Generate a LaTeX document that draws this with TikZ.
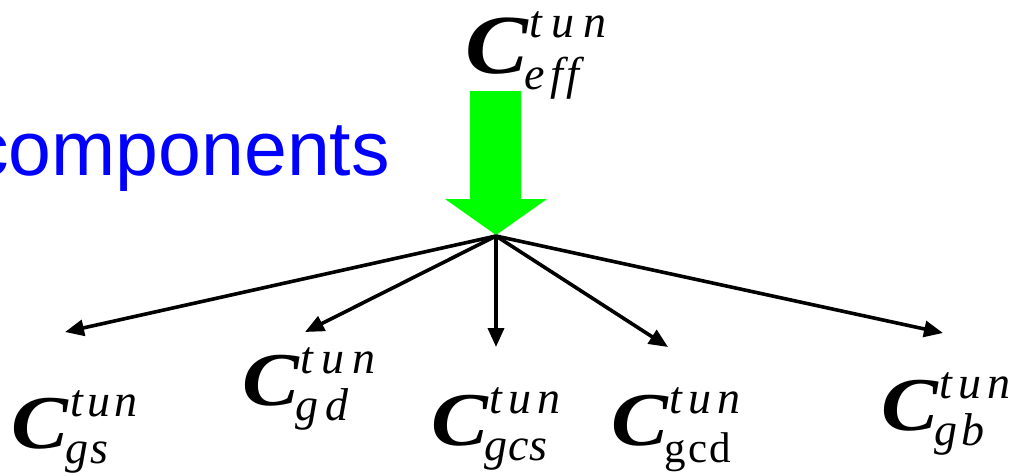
\documentclass[tikz,border=0pt]{standalone}
\usepackage{fontspec}
\setmainfont{Liberation Serif}
\newfontfamily\labelsans{Liberation Sans}
\usetikzlibrary{arrows.meta}
\definecolor{compblue}{RGB}{0,0,255}
\definecolor{arrowgreen}{RGB}{0,255,0}
\newcommand\bigCsym[1]{{\fontsize{#1}{#1}\selectfont\bfseries\itshape\scalebox{1.12}[1]{C}}}
\newcommand\supsc[1]{{\fontsize{46}{46}\selectfont\itshape #1}}
\newcommand\subsc[1]{{\fontsize{46}{46}\selectfont\itshape #1}}
% #1 C size, #2 subscript, #3 sub drop, #4 sup raise, #5 letter gap in sup
\newcommand\capsym[5]{\bigCsym{#1}\kern-3pt\rlap{\raisebox{#4pt}{\kern5pt\supsc{t\kern#5pt u\kern#5pt n}}}\raisebox{-#3pt}{#2}}
\tikzset{
  lbl/.style={anchor=base west, inner sep=0pt, outer sep=0pt},
  branch/.style={line width=3.6pt, -{Triangle[length=19pt,width=16pt]}},
}
\begin{document}
\begin{tikzpicture}[x=1pt,y=-1pt]
\useasboundingbox (0,0) rectangle (1024,475);
% blue text
\node[anchor=base east, inner sep=0pt, text=compblue, font=\labelsans\fontsize{77}{77}\selectfont] (comp) at (390,175) {components};
% top label
\node[lbl] (ceff) at (465,73) {\capsym{84}{\subsc{e\kern5pt f\kern4pt f}}{16}{36}{9}};
% green arrow
\fill[arrowgreen] (470,91) -- (521,91) -- (521,199) -- (547,199) -- (496,235) -- (445,199) -- (470,199) -- cycle;
\coordinate (hub) at (496,236);
% endpoints
\coordinate (egs) at (65,332);
\coordinate (egd) at (305,332);
\coordinate (egcs) at (496,347);
\coordinate (egcd) at (668,347);
\coordinate (egb) at (943,333);
\draw[branch] (hub) -- (egs);
\draw[branch] (hub) -- (egd);
\draw[branch] (hub) -- (egcs);
\draw[branch] (hub) -- (egcd);
\draw[branch] (hub) -- (egb);
% bottom labels
\node[lbl] (cgs) at (12,448) {\capsym{76}{\subsc{g\kern2pt s}}{15}{32}{4}};
\node[lbl] (cgd) at (242,405) {\capsym{76}{\subsc{g\kern7pt d}}{15}{32}{8}};
\node[lbl] (cgcs) at (431,445) {\capsym{76}{\subsc{g\kern1pt c\kern0pt s}}{15}{32}{6}};
\node[lbl] (cgcd) at (611,445) {\capsym{76}{{\fontsize{43}{43}\selectfont\upshape g\kern2pt c\kern2pt d}}{17}{32}{6}};
\node[lbl] (cgb) at (881,430) {\capsym{76}{\subsc{g\kern4pt b}}{15}{32}{6}};
\end{tikzpicture}
\end{document}
